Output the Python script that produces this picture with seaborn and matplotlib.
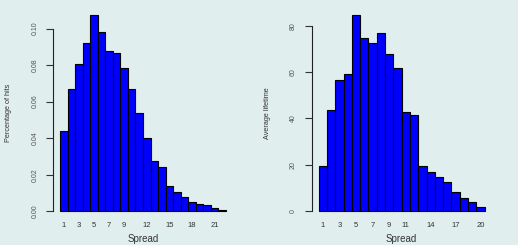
import numpy as np
import pandas as pd
import matplotlib.pyplot as plt
import seaborn as sns

# Left panel: share of hits per spread
spread_hits = list(range(1, 23))
pct_hits = [0.0440, 0.0667, 0.0806, 0.0923, 0.1073, 0.0984, 0.0879, 0.0868,
            0.0784, 0.0667, 0.0539, 0.0399, 0.0276, 0.0240, 0.0139, 0.0104,
            0.0075, 0.0051, 0.0042, 0.0033, 0.0020, 0.0004]
hits_ticks = [0, 0.02, 0.04, 0.06, 0.08, 0.10]
hits_xlabels = [1, 3, 5, 7, 9, 12, 15, 18, 21]

# Right panel: average lifetime per spread
spread_life = list(range(1, 21))
avg_life = [19.3, 43.5, 56.4, 59.0, 84.5, 74.8, 72.5, 76.9, 67.7, 61.7,
            43.0, 41.5, 19.4, 16.8, 14.8, 12.7, 8.2, 5.5, 3.9, 1.9]
life_ticks = [0, 20, 40, 60, 80]
life_xlabels = [1, 3, 5, 7, 9, 11, 14, 17, 20]

BG = "#e0eeee"
sns.set_theme(style="white")
plt.rcParams["font.family"] = ["Liberation Sans", "DejaVu Sans"]


def draw_panel(ax, xs, ys, yticks, ytick_fmt, xlabels, ylabel):
    df = pd.DataFrame({"spread": xs, "value": ys})
    sns.barplot(data=df, x="spread", y="value", ax=ax, color="#0000ff",
                saturation=1, width=1.0, edgecolor="black", linewidth=0.8)
    n = len(xs)
    pad = 0.04 * n
    ax.set_xlim(-0.5 - pad, n - 0.5 + pad)
    top = max(ys)
    ax.set_ylim(-0.04 * top, top * 1.04)
    ax.set_facecolor(BG)

    for s in ["top", "right", "bottom"]:
        ax.spines[s].set_visible(False)
    ax.spines["left"].set_bounds(yticks[0], yticks[-1])
    ax.spines["left"].set_color("#222222")
    ax.spines["left"].set_linewidth(0.8)

    ax.set_yticks(yticks)
    ax.set_yticklabels([ytick_fmt(v) for v in yticks], rotation=90,
                       va="center", fontsize=5, color="#555555")
    ax.tick_params(axis="y", length=4.8, width=0.8, color="#333333", pad=6, left=True)

    pos = [xs.index(v) for v in xlabels]
    ax.set_xticks(pos)
    ax.set_xticklabels([str(v) for v in xlabels], fontsize=5.5, color="#333333")
    ax.tick_params(axis="x", length=0, pad=2.5)

    ax.set_xlabel("Spread", fontsize=7, color="#333333", labelpad=3)
    ax.set_ylabel(ylabel, fontsize=5.2, color="#333333", labelpad=14)


fig = plt.figure(figsize=(5.18, 2.45), dpi=100, facecolor=BG)
ax1 = fig.add_axes([0.1031, 0.1061, 0.3459, 0.8633])
ax2 = fig.add_axes([0.6023, 0.1061, 0.3461, 0.8633])

draw_panel(ax1, spread_hits, pct_hits, hits_ticks, lambda v: f"{v:.2f}",
           hits_xlabels, "Percentage of hits")
draw_panel(ax2, spread_life, avg_life, life_ticks, lambda v: f"{v:d}",
           life_xlabels, "Average lifetime")

fig.savefig("out.png", dpi=100, facecolor=BG)
